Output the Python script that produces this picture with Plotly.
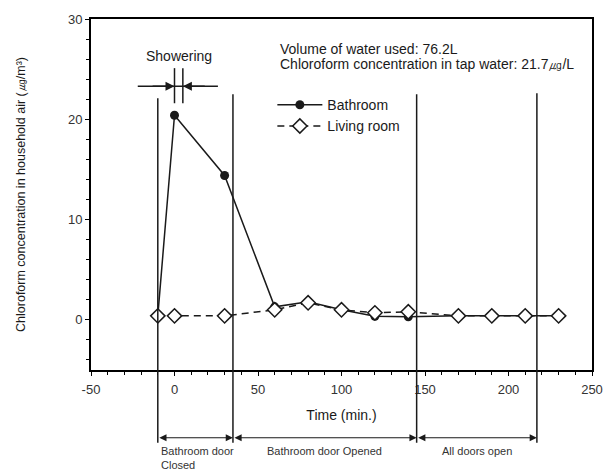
import plotly.graph_objects as go

# ---- data ----
time_min = [-10, 0, 30, 60, 80, 100, 120, 140, 170, 190, 210, 230]
bathroom = [0.4, 20.4, 14.4, 1.3, 1.8, 1.0, 0.35, 0.3, 0.4, 0.4, 0.4, 0.4]
living_room = [0.4, 0.4, 0.4, 1.0, 1.7, 1.0, 0.7, 0.8, 0.4, 0.4, 0.4, 0.4]

phase_bounds = [-10, 35, 145, 217]
phase_labels = ["Bathroom door<br>Closed", "Bathroom door Opened", "All doors open"]
shower_start, shower_end = 0, 5

x_range = [-50, 250]
y_range = [-5, 30]
x_tickvals = [-50, 0, 50, 100, 150, 200, 250]
x_ticktext = ["-50", "0", "50", "100", "150", "200", "250"]

FONT = "Liberation Sans, Arial, sans-serif"
INK = "#1a1a1a"

fig = go.Figure()
fig.add_trace(go.Scatter(
    x=time_min, y=bathroom, name="Bathroom", mode="lines+markers",
    line=dict(color=INK, width=1.5),
    marker=dict(symbol="circle", size=9, color=INK),
))
fig.add_trace(go.Scatter(
    x=time_min, y=living_room, name="Living room", mode="lines+markers",
    line=dict(color=INK, width=1.5, dash="7px,5px"),
    marker=dict(symbol="diamond", size=11, color="white", line=dict(width=1.5, color=INK)),
))

def ypaper(v):
    return (v - y_range[0]) / (y_range[1] - y_range[0])

shapes = []
phase_tops = [22.1, 22.5, 22.5, 22.6]
for xb, top in zip(phase_bounds, phase_tops):
    shapes.append(dict(type="line", xref="x", yref="paper", x0=xb, x1=xb,
                       y0=-0.207, y1=ypaper(top), line=dict(color=INK, width=1.5)))
for xs in (shower_start, shower_end):
    shapes.append(dict(type="line", xref="x", yref="y", x0=xs, x1=xs,
                       y0=21.6, y1=25.1, line=dict(color=INK, width=1.5)))
shapes.append(dict(type="line", xref="x", yref="y", x0=-22, x1=26,
                   y0=23.3, y1=23.3, line=dict(color=INK, width=1.5)))

annotations = []
annotations.append(dict(x=shower_start, y=23.3, xref="x", yref="y", ax=-14, ay=23.3,
                        axref="x", ayref="y", showarrow=True, arrowhead=2, arrowsize=1.2,
                        arrowwidth=1.5, arrowcolor=INK, text=""))
annotations.append(dict(x=shower_end, y=23.3, xref="x", yref="y", ax=19, ay=23.3,
                        axref="x", ayref="y", showarrow=True, arrowhead=2, arrowsize=1.2,
                        arrowwidth=1.5, arrowcolor=INK, text=""))
annotations.append(dict(x=(shower_start + shower_end) / 2, y=26.3, xref="x", yref="y",
                        text="Showering", showarrow=False, yanchor="middle",
                        font=dict(size=14, color=INK, family=FONT)))
info_lines = ["Volume of water used: 76.2L",
              "Chloroform concentration in tap water: 21.7㎍/L"]
for i, line in enumerate(info_lines):
    annotations.append(dict(x=0.374, y=0.915 - 0.043 * i, xref="paper", yref="paper",
                            xanchor="left", yanchor="middle", align="left", showarrow=False,
                            text=line, font=dict(size=14, color=INK, family=FONT)))
arrow_y = -0.193
for a, b in zip(phase_bounds[:-1], phase_bounds[1:]):
    annotations.append(dict(x=b, y=arrow_y, xref="x", yref="paper", ax=a, ay=0,
                            axref="x", ayref="pixel", showarrow=True, arrowhead=2,
                            startarrowhead=2, arrowside="end+start", arrowsize=1.2,
                            startarrowsize=1.2, arrowwidth=1.2, arrowcolor=INK, text=""))
annotations.append(dict(x=phase_bounds[0] + 0.5, y=-0.207, xref="x", yref="paper",
                        xanchor="left", yanchor="top", align="left", showarrow=False,
                        text=phase_labels[0], font=dict(size=11, color="#333", family=FONT)))
for i in (1, 2):
    annotations.append(dict(x=(phase_bounds[i] + phase_bounds[i + 1]) / 2, y=-0.207,
                            xref="x", yref="paper", xanchor="center", yanchor="top",
                            showarrow=False, text=phase_labels[i],
                            font=dict(size=11, color="#333", family=FONT)))

fig.update_layout(
    width=615, height=474,
    margin=dict(l=91, r=19, t=18, b=104),
    paper_bgcolor="white", plot_bgcolor="white",
    font=dict(family=FONT, size=12, color=INK),
    showlegend=True,
    legend=dict(x=0.362, y=0.8, xanchor="left", yanchor="top",
                bgcolor="rgba(0,0,0,0)", font=dict(size=14, color=INK, family=FONT),
                itemwidth=45, tracegroupgap=0),
    shapes=shapes, annotations=annotations,
    xaxis=dict(range=x_range, tickmode="array", tickvals=x_tickvals, ticktext=x_ticktext,
               showgrid=False, zeroline=False,
               showline=True, linecolor="black", linewidth=2, mirror=True,
               ticks="outside", ticklen=4, tickcolor="black", tickwidth=1,
               minor=dict(tickmode="linear", tick0=0, dtick=10, ticks="outside",
                          ticklen=3, tickcolor="black", showgrid=False),
               tickfont=dict(size=13, color="#333"), ticklabelstandoff=2,
               title=dict(text="Time (min.)", font=dict(size=14, color=INK), standoff=15)),
    yaxis=dict(range=y_range, tickmode="linear", tick0=0, dtick=10,
               showgrid=False, zeroline=False,
               showline=True, linecolor="black", linewidth=2, mirror=True,
               ticks="outside", ticklen=4, tickcolor="black", tickwidth=1,
               minor=dict(tickmode="linear", tick0=0, dtick=2, ticks="outside",
                          ticklen=3, tickcolor="black", showgrid=False),
               tickfont=dict(size=13, color="#333"),
               title=dict(text="Chloroform concentration in household air (㎍/m³)",
                          font=dict(size=12.5, color=INK), standoff=40)),
)

fig.write_html("out.html")
